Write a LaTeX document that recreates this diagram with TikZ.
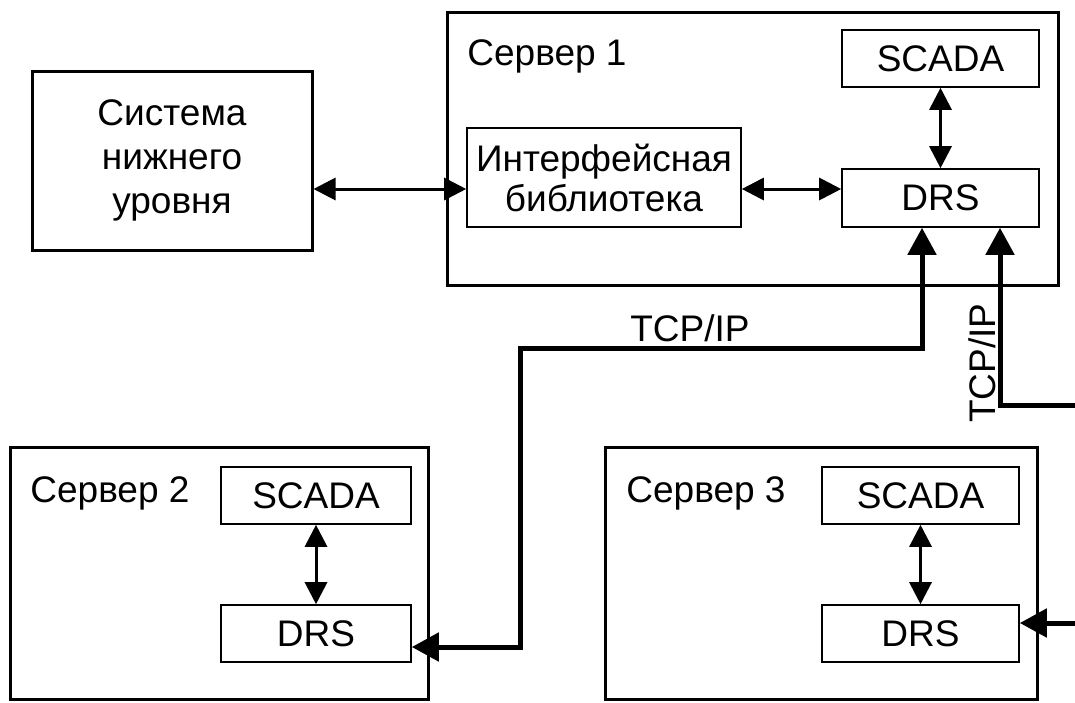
\documentclass[tikz,border=0pt]{standalone}
\usepackage{fontspec}
\setmainfont{Liberation Sans}
\usetikzlibrary{arrows.meta}
\tikzset{
  smalltip/.tip={Triangle[length=11pt,width=11pt]},
  bigtip/.tip={Triangle[length=13.5pt,width=14pt]},
}
\begin{document}
\begin{tikzpicture}[x=0.5pt,y=-0.5pt,
  every node/.style={font=\fontsize{18.5}{22}\selectfont, inner sep=0pt},
  bigbox/.style={draw, line width=1.5pt},
  thinbox/.style={draw, line width=0.8pt},
  bi/.style={line width=1.5pt, smalltip-smalltip},
  tcp/.style={line width=2.5pt}
]
\useasboundingbox (0,0) rectangle (1075,702);

% boxes
\node[bigbox, minimum width=140pt, minimum height=89.5pt, align=center] (low) at (172,160.5) {Система\\нижнего\\уровня};
\node[bigbox, minimum width=305.5pt, minimum height=136.5pt] (srv1) at (752.5,148.5) {};
\node[anchor=base west] (srv1t) at (467,65) {Сервер 1};
\node[thinbox, minimum width=137pt, minimum height=49.5pt, align=center, font=\fontsize{18.5}{20}\selectfont] (lib) at (604,177.5) {Интерфейсная\\библиотека};
\node[thinbox, minimum width=98.5pt, minimum height=28.5pt] (scada1) at (940.5,58.5) {SCADA};
\node[thinbox, minimum width=98.5pt, minimum height=29pt] (drs1) at (940.5,198) {DRS};

\node[bigbox, minimum width=209pt, minimum height=126pt] (srv2) at (219,573) {};
\node[anchor=base west] (srv2t) at (30,502) {Сервер 2};
\node[thinbox, minimum width=95pt, minimum height=28.5pt] (scada2) at (316,495.5) {SCADA};
\node[thinbox, minimum width=95pt, minimum height=28.5pt] (drs2) at (316,633.5) {DRS};

\node[bigbox, minimum width=216pt, minimum height=126pt] (srv3) at (821,573) {};
\node[anchor=base west] (srv3t) at (626,502) {Сервер 3};
\node[thinbox, minimum width=98.5pt, minimum height=28.5pt] (scada3) at (920.5,495.5) {SCADA};
\node[thinbox, minimum width=98.5pt, minimum height=28.5pt] (drs3) at (920.5,633.5) {DRS};

% internal connectors
\coordinate (r1) at (0,189);
\draw[bi] (low.east |- r1) -- (lib.west |- r1);
\draw[bi] (lib.east |- r1) -- (drs1.west |- r1);
\draw[bi] (scada1.south) -- (drs1.north);
\draw[bi] (scada2.south) -- (drs2.north);
\draw[bi] (scada3.south) -- (drs3.north);

% TCP/IP links
\coordinate (t1a) at (922,0);
\coordinate (t1b) at (520,348);
\coordinate (t1c) at (0,647);
\draw[tcp, bigtip-bigtip] (drs1.south -| t1a) |- (t1b) |- (drs2.east |- t1c);

\coordinate (t2a) at (1000,0);
\coordinate (t2e) at (1075,405);
\draw[tcp, bigtip-] (drs1.south -| t2a) |- (t2e);

\coordinate (t3e) at (1075,623);
\draw[tcp, -bigtip] (t3e) -- (drs3.east |- t3e);

\node (tcp1l) at (690,328) {TCP/IP};
\node[rotate=90] (tcp2l) at (982,363) {TCP/IP};
\end{tikzpicture}
\end{document}
